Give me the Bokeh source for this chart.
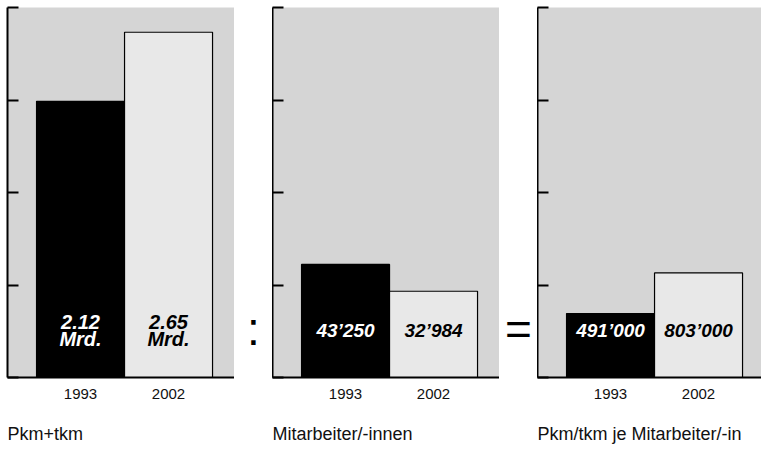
from bokeh.plotting import figure
from bokeh.layouts import row
from bokeh.models import Range1d, FixedTicker, Title
from bokeh.core.properties import value
from bokeh.embed import file_html
from bokeh.resources import INLINE

# ---- data ----
categories = ["1993", "2002"]
pkm_values = [2.12, 2.65]            # Mrd. Pkm+tkm
pkm_labels = ["2.12\nMrd.", "2.65\nMrd."]
staff_values = [43250, 32984]
staff_labels = ["43\u2019250", "32\u2019984"]
prod_values = [491000, 803000]
prod_labels = ["491\u2019000", "803\u2019000"]
titles = ["Pkm+tkm", "Mitarbeiter/-innen", "Pkm/tkm je Mitarbeiter/-in"]
axis_max = [2.84, 141500, 2840000]
separators = [":", "="]

# ---- style ----
FONT = "'Liberation Sans', Arial, sans-serif"
BG = "#d5d5d5"
BAR_COLORS = ["#000000", "#e8e8e8"]
TEXT_COLORS = ["white", "black"]
FRAME_H = 370
TOP = 7
BAR_PX = 88.0
X0 = -0.33
LABEL_FRAC = 0.127
SEP_FRAC = 0.132


def panel(values, labels, ymax, title, fw, label_size, left=0):
    p = figure(frame_width=fw, frame_height=FRAME_H,
               x_range=Range1d(X0, X0 + fw / BAR_PX), y_range=Range1d(0, ymax),
               output_backend="svg", toolbar_location=None, min_border=0,
               min_border_top=TOP, min_border_left=left,
               background_fill_color=BG, border_fill_color="white",
               outline_line_color=None)
    p.grid.visible = False
    xs = [i + 0.5 for i in range(len(categories))]
    p.vbar(x=xs, top=values, bottom=0, width=1, fill_color=BAR_COLORS,
           line_color="black", line_width=1.2)
    p.text(x=xs, y=[ymax * LABEL_FRAC] * len(xs), text=labels,
           text_color=TEXT_COLORS, text_font=value(FONT),
           text_font_style="bold italic", text_font_size=label_size,
           text_align="center", text_baseline="middle", text_line_height=0.8)
    ya = p.yaxis[0]
    ya.ticker = FixedTicker(ticks=[ymax * f for f in (0, 0.25, 0.5, 0.75, 1.0)])
    ya.major_label_text_font_size = "0px"
    ya.major_label_text_color = None
    ya.major_label_standoff = 0
    ya.major_tick_in = 11
    ya.major_tick_out = 0
    ya.major_tick_line_width = 2
    ya.minor_tick_line_color = None
    ya.axis_line_width = 2
    xa = p.xaxis[0]
    xa.ticker = FixedTicker(ticks=xs)
    xa.major_label_overrides = {x: c for x, c in zip(xs, categories)}
    xa.major_tick_in = 0
    xa.major_tick_out = 0
    xa.minor_tick_line_color = None
    xa.axis_line_width = 2
    xa.major_label_standoff = 11
    xa.major_label_text_font = FONT
    xa.major_label_text_font_size = "15px"
    xa.major_label_text_color = "#111111"
    p.add_layout(Title(text=title, align="left", text_font=FONT,
                       text_font_size="18px", text_font_style="normal",
                       text_color="#111111", standoff=40), "below")
    return p


def sep(ch, fw):
    s = figure(frame_width=fw, frame_height=FRAME_H, x_range=Range1d(0, 1),
               y_range=Range1d(0, 1), output_backend="svg", toolbar_location=None,
               min_border=0, min_border_top=TOP,
               x_axis_location=None, y_axis_location=None,
               outline_line_color=None, border_fill_color="white",
               background_fill_color="white")
    s.grid.visible = False
    s.text(x=[0.5], y=[SEP_FRAC], text=[ch], text_font=value(FONT),
           text_font_size="46px", text_align="center",
           text_baseline="alphabetic", text_color="black")
    return s


p1 = panel(pkm_values, pkm_labels, axis_max[0], titles[0], 227, "20px", left=7)
s1 = sep(separators[0], 38)
p2 = panel(staff_values, staff_labels, axis_max[1], titles[1], 227, "19px")
s2 = sep(separators[1], 38)
p3 = panel(prod_values, prod_labels, axis_max[2], titles[2], 224, "19px")

layout = row(p1, s1, p2, s2, p3, spacing=0)
open("out.html", "w").write(file_html(layout, INLINE))
